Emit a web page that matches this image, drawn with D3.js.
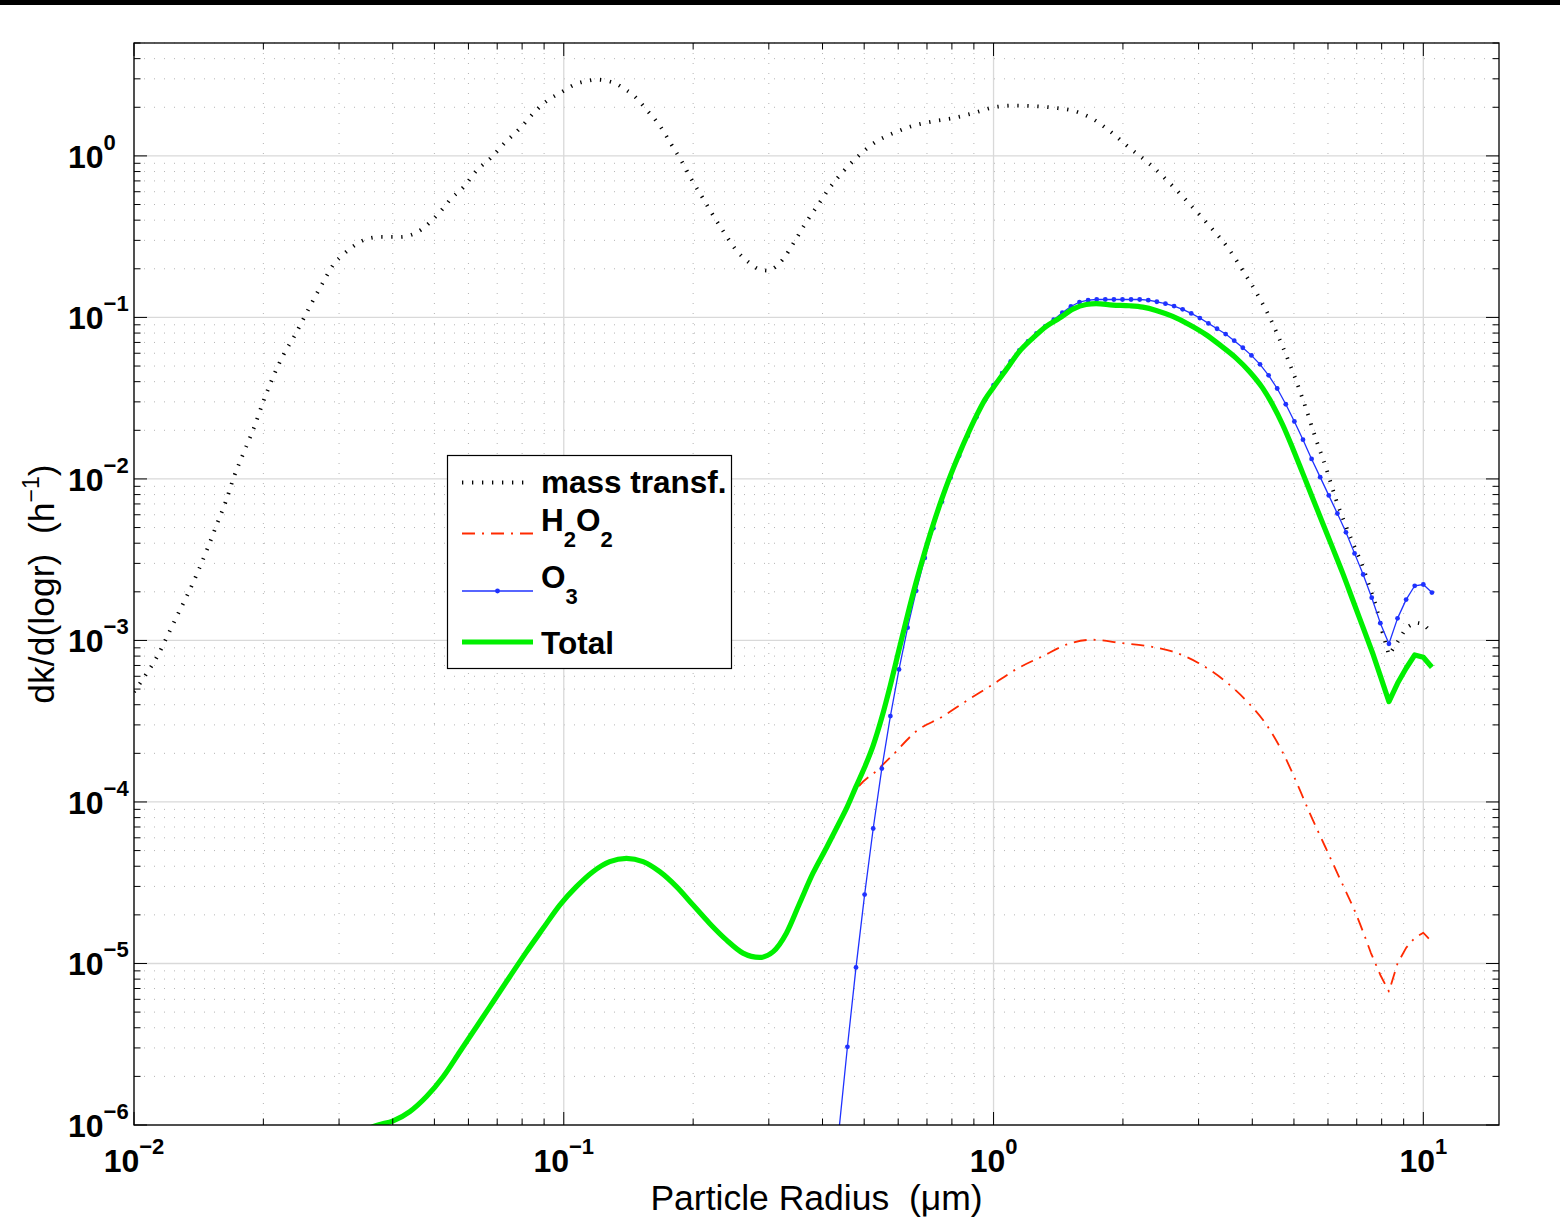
<!DOCTYPE html>
<html>
<head>
<meta charset="utf-8">
<script src="https://cdn.jsdelivr.net/npm/d3@7"></script>
<style>
  html, body { margin: 0; padding: 0; background: #fff; }
  svg { display: block; font-family: "Liberation Sans", Arial, Helvetica, sans-serif; }
</style>
</head>
<body>
<svg id="chart" width="1560" height="1231"></svg>
<script>
// ---- axis ranges ----
const xDomain = [0.01, 15];      // particle radius (µm)
const yDomain = [1e-6, 5];       // dk/d(log r) (1/h)
const xMajorExp = [-2, -1, 0, 1];
const yMajorExp = [0, -1, -2, -3, -4, -5, -6];

// ---- mass-transfer limit ----
const massR = [0.0100, 0.01072, 0.01131, 0.01193, 0.01259, 0.01328, 0.01401, 0.01478, 0.01560, 0.01637,
  0.01708, 0.01803, 0.01901, 0.02006, 0.02117, 0.02233, 0.02356, 0.02486, 0.02622, 0.02766,
  0.02919, 0.03079, 0.03248, 0.03483, 0.03753, 0.04178, 0.04408, 0.04650, 0.04906, 0.05176,
  0.05461, 0.05852, 0.06274, 0.06764, 0.07251, 0.07943, 0.08514, 0.09131, 0.09841, 0.1069,
  0.1126, 0.1187, 0.1253, 0.1320, 0.1384, 0.1452, 0.1561, 0.1676, 0.1774, 0.1880,
  0.1979, 0.2096, 0.2220, 0.2356, 0.2503, 0.2703, 0.2835, 0.2987, 0.3121, 0.3241,
  0.3445, 0.3656, 0.3909, 0.4173, 0.4487, 0.4843, 0.5277, 0.5864, 0.6513, 0.7264,
  0.8085, 0.9014, 1.0032, 1.1166, 1.2474, 1.3916, 1.5466, 1.7112, 1.8652, 2.0720,
  2.3063, 2.5670, 2.8573, 3.1793, 3.5387, 3.7939, 4.0680, 4.3848, 4.6991, 5.0119,
  5.3178, 5.6315, 5.9406, 6.2668, 6.6113, 6.9117, 7.2255, 7.4895, 7.7625, 8.0418,
  8.3176, 8.7096, 9.1201, 9.5499, 10.000, 10.471];
const massK = [4.80e-4, 6.29e-4, 7.90e-4, 1.051e-3, 1.418e-3, 1.886e-3, 2.581e-3, 3.635e-3, 5.265e-3, 7.307e-3,
  1.029e-2, 1.470e-2, 2.069e-2, 3.085e-2, 4.406e-2, 5.943e-2, 7.574e-2, 9.93e-2, 0.1302, 0.1683,
  0.2145, 0.2473, 0.2772, 0.3062, 0.3150, 0.3150, 0.3241, 0.3480, 0.3930, 0.4565,
  0.5418, 0.6428, 0.8145, 0.9719, 1.187, 1.501, 1.846, 2.191, 2.466, 2.792,
  2.901, 2.968, 2.926, 2.804, 2.599, 2.376, 1.919, 1.527, 1.192, 0.9273,
  0.7206, 0.5598, 0.4331, 0.3383, 0.2667, 0.2176, 0.1997, 0.1949, 0.2075, 0.2303,
  0.2963, 0.3847, 0.4994, 0.6428, 0.8111, 0.9957, 1.204, 1.388, 1.540, 1.640,
  1.719, 1.846, 2.002, 2.049, 2.031, 1.982, 1.891, 1.678, 1.422, 1.121,
  0.8923, 0.6806, 0.5045, 0.3686, 0.2618, 0.1968, 0.1459, 0.1007, 0.06662, 0.04343,
  0.02791, 0.01749, 0.01167, 0.007433, 0.005080, 0.003819, 0.002871, 0.002160, 0.001624, 0.001110,
  0.000813, 0.000979, 0.001195, 0.001293, 0.001265, 0.001113];

// ---- H2O2 pathway ----
const h2o2R = [0.4528, 0.4751, 0.5373, 0.5834, 0.6599, 0.7610, 0.8607, 0.9940, 1.124, 1.297,
  1.497, 1.693, 1.995, 2.256, 2.604, 3.004, 3.467, 3.922, 4.344, 4.715,
  5.118, 5.442, 5.908, 6.412, 6.960, 7.553, 7.943, 8.318, 8.710, 9.120,
  9.550, 10.00, 10.47];
const h2o2K = [8.67e-5, 1.14e-4, 1.58e-4, 1.96e-4, 2.73e-4, 3.38e-4, 4.19e-4, 5.32e-4, 6.59e-4, 7.96e-4,
  9.54e-4, 1.01e-3, 9.62e-4, 9.27e-4, 8.55e-4, 7.23e-4, 5.57e-4, 4.09e-4, 2.93e-4, 2.01e-4,
  1.25e-4, 8.52e-5, 5.30e-5, 3.30e-5, 2.05e-5, 1.16e-5, 8.49e-6, 6.71e-6, 1.00e-5, 1.25e-5,
  1.44e-5, 1.55e-5, 1.36e-5];

// ---- O3 pathway (one marker per size bin) ----
const o3R = [0.4365, 0.4571, 0.4786, 0.5012, 0.5248, 0.5495, 0.5754, 0.6026, 0.6310, 0.6607,
  0.6918, 0.7244, 0.7586, 0.7943, 0.8318, 0.8710, 0.9120, 0.9550, 1.0000, 1.0471,
  1.0965, 1.1482, 1.2023, 1.2589, 1.3183, 1.3804, 1.4454, 1.5136, 1.5849, 1.6596,
  1.7378, 1.8197, 1.9055, 1.9953, 2.0893, 2.1878, 2.2909, 2.3988, 2.5119, 2.6303,
  2.7542, 2.8840, 3.0200, 3.1623, 3.3113, 3.4674, 3.6308, 3.8019, 3.9811, 4.1687,
  4.3652, 4.5709, 4.7863, 5.0119, 5.2481, 5.4954, 5.7544, 6.0256, 6.3096, 6.6069,
  6.9183, 7.2444, 7.5858, 7.9433, 8.3176, 8.7096, 9.1201, 9.5499, 10.000, 10.471];
const o3K = [9.1e-7, 3.05e-6, 9.46e-6, 2.67e-5, 6.85e-5, 1.61e-4, 3.40e-4, 6.62e-4, 1.20e-3, 2.03e-3,
  3.24e-3, 4.95e-3, 7.23e-3, 1.02e-2, 1.39e-2, 1.85e-2, 2.41e-2, 3.07e-2, 3.81e-2, 4.52e-2,
  5.35e-2, 6.25e-2, 7.10e-2, 7.96e-2, 8.79e-2, 9.68e-2, 0.1069, 0.1169, 0.1245, 0.1279,
  0.1291, 0.1291, 0.1291, 0.1291, 0.1291, 0.1291, 0.1279, 0.1250, 0.1216, 0.1175,
  0.1122, 0.1059, 0.0991, 0.0918, 0.0851, 0.0789, 0.0718, 0.0649, 0.0582, 0.0512,
  0.0438, 0.0363, 0.0290, 0.0227, 0.0175, 0.0133, 0.01026, 0.00791, 0.00611, 0.00467,
  0.00346, 0.00256, 0.00184, 0.00128, 0.000953, 0.00137, 0.00179, 0.00218, 0.00222, 0.00198];

// ---- total rate ----
const totalR = [0.03390, 0.03699, 0.04009, 0.04383, 0.04793, 0.05240, 0.05730, 0.06266, 0.06850, 0.07487,
  0.08189, 0.08952, 0.09788, 0.1070, 0.1169, 0.1279, 0.1399, 0.1529, 0.1672, 0.1829,
  0.1999, 0.2185, 0.2389, 0.2612, 0.2856, 0.3067, 0.3296, 0.3538, 0.3800, 0.4083,
  0.4384, 0.4571, 0.4786, 0.5012, 0.5248, 0.5495, 0.5754, 0.6026, 0.6310, 0.6607,
  0.6918, 0.7244, 0.7586, 0.7943, 0.8318, 0.8710, 0.9120, 0.9550, 1.0000, 1.070,
  1.149, 1.234, 1.326, 1.424, 1.529, 1.643, 1.733, 1.894, 2.072, 2.225,
  2.390, 2.612, 2.856, 3.124, 3.355, 3.668, 3.938, 4.229, 4.461, 4.707,
  4.966, 5.240, 5.528, 5.833, 6.154, 6.492, 6.849, 7.225, 7.623, 7.943,
  8.318, 8.710, 9.120, 9.550, 10.00, 10.47];
const totalK = [9.18e-7, 1.00e-6, 1.06e-6, 1.21e-6, 1.50e-6, 1.99e-6, 2.84e-6, 4.06e-6, 5.80e-6, 8.28e-6,
  1.18e-5, 1.65e-5, 2.30e-5, 2.99e-5, 3.70e-5, 4.27e-5, 4.48e-5, 4.27e-5, 3.70e-5, 2.99e-5,
  2.30e-5, 1.77e-5, 1.40e-5, 1.16e-5, 1.09e-5, 1.18e-5, 1.54e-5, 2.36e-5, 3.62e-5, 5.19e-5,
  7.52e-5, 9.40e-5, 1.245e-4, 1.64e-4, 2.24e-4, 3.33e-4, 5.29e-4, 8.76e-4, 1.44e-3, 2.30e-3,
  3.53e-3, 5.26e-3, 7.57e-3, 1.055e-2, 1.428e-2, 1.89e-2, 2.456e-2, 3.10e-2, 3.70e-2, 4.75e-2,
  6.16e-2, 7.44e-2, 8.80e-2, 9.90e-2, 0.1125, 0.1203, 0.1216, 0.1192, 0.1181, 0.1158,
  0.1105, 0.1014, 0.0901, 0.0781, 0.0678, 0.0560, 0.0463, 0.0365, 0.0288, 0.02166,
  0.01551, 0.01086, 0.00760, 0.00532, 0.00373, 0.00261, 0.001786, 0.001221, 0.000834, 0.000603,
  0.000418, 0.000543, 0.000673, 0.000813, 0.000787, 0.000682];

// ---- layout ----
const W = 1560, H = 1231;
const plot = { left: 134, right: 1499, top: 43, bottom: 1125 };

const svg = d3.select("#chart");
svg.append("rect").attr("width", W).attr("height", H).attr("fill", "#fff");
svg.append("rect").attr("x", 0).attr("y", 0).attr("width", W).attr("height", 5).attr("fill", "#000");

const x = d3.scaleLog().domain(xDomain).range([plot.left, plot.right]);
const y = d3.scaleLog().domain(yDomain).range([plot.bottom, plot.top]);

const isMajor = v => Math.abs(Math.log10(v) - Math.round(Math.log10(v))) < 1e-9;
const xTicks = x.ticks();
const yTicks = y.ticks();

// ---- grid ----
const grid = svg.append("g");
xTicks.filter(v => !isMajor(v)).forEach(v => {
  grid.append("line").attr("x1", x(v)).attr("x2", x(v)).attr("y1", plot.top).attr("y2", plot.bottom)
    .attr("stroke", "#b4b4b4").attr("stroke-width", 1).attr("stroke-dasharray", "1,9");
});
yTicks.filter(v => !isMajor(v)).forEach(v => {
  grid.append("line").attr("y1", y(v)).attr("y2", y(v)).attr("x1", plot.left).attr("x2", plot.right)
    .attr("stroke", "#b4b4b4").attr("stroke-width", 1).attr("stroke-dasharray", "1,9");
});
xTicks.filter(isMajor).forEach(v => {
  grid.append("line").attr("x1", x(v)).attr("x2", x(v)).attr("y1", plot.top).attr("y2", plot.bottom)
    .attr("stroke", "#d9d9d9").attr("stroke-width", 1.3);
});
yTicks.filter(isMajor).forEach(v => {
  grid.append("line").attr("y1", y(v)).attr("y2", y(v)).attr("x1", plot.left).attr("x2", plot.right)
    .attr("stroke", "#d9d9d9").attr("stroke-width", 1.3);
});

// ---- curves ----
svg.append("clipPath").attr("id", "plotClip").append("rect")
  .attr("x", plot.left).attr("y", plot.top)
  .attr("width", plot.right - plot.left).attr("height", plot.bottom - plot.top);

const curves = svg.append("g").attr("clip-path", "url(#plotClip)");
const smoothLine = d3.line().x(d => x(d[0])).y(d => y(d[1])).curve(d3.curveMonotoneX);
const straightLine = d3.line().x(d => x(d[0])).y(d => y(d[1]));

const massData = d3.zip(massR, massK);
const h2o2Data = d3.zip(h2o2R, h2o2K);
const o3Data = d3.zip(o3R, o3K);
const totalData = d3.zip(totalR, totalK);

const styles = {
  mass:  { stroke: "#000000", width: 3.8, dash: "1.3,8.7" },
  h2o2:  { stroke: "#ff2a00", width: 1.8, dash: "13,7,2,7" },
  o3:    { stroke: "#1f32ff", width: 1.3, dash: null },
  total: { stroke: "#00f000", width: 5.2, dash: null }
};

// smooth body, straight segments through the sharp dip near 8 µm
function seriesPath(data, splitR) {
  if (splitR == null) return straightLine(data);
  const head = data.filter(d => d[0] <= splitR);
  const tail = data.filter(d => d[0] >= splitR);
  return smoothLine(head) + straightLine(tail).replace(/^M/, "L");
}

function drawSeries(g, data, s, splitR) {
  const p = g.append("path").attr("d", seriesPath(data, splitR))
    .attr("fill", "none").attr("stroke", s.stroke).attr("stroke-width", s.width)
    .attr("stroke-linejoin", "round");
  if (s.dash) p.attr("stroke-dasharray", s.dash).attr("stroke-linecap", "butt");
  return p;
}

drawSeries(curves, massData, styles.mass, 8.0418);
drawSeries(curves, h2o2Data, styles.h2o2, 7.553);
drawSeries(curves, o3Data, styles.o3, null);
curves.append("g").selectAll("circle").data(o3Data).join("circle")
  .attr("cx", d => x(d[0])).attr("cy", d => y(d[1])).attr("r", 2.4).attr("fill", styles.o3.stroke);
drawSeries(curves, totalData, styles.total, 7.623);

// ---- axes box and ticks ----
const axes = svg.append("g").attr("stroke", "#000");
axes.append("rect").attr("x", plot.left).attr("y", plot.top)
  .attr("width", plot.right - plot.left).attr("height", plot.bottom - plot.top)
  .attr("fill", "none").attr("stroke-width", 1.3);
xTicks.forEach(v => {
  const len = isMajor(v) ? 13 : 6.5;
  const px = x(v);
  axes.append("line").attr("x1", px).attr("x2", px).attr("y1", plot.bottom).attr("y2", plot.bottom - len).attr("stroke-width", 1);
  axes.append("line").attr("x1", px).attr("x2", px).attr("y1", plot.top).attr("y2", plot.top + len).attr("stroke-width", 1);
});
yTicks.forEach(v => {
  const len = isMajor(v) ? 13 : 6.5;
  const py = y(v);
  axes.append("line").attr("y1", py).attr("y2", py).attr("x1", plot.left).attr("x2", plot.left + len).attr("stroke-width", 1);
  axes.append("line").attr("y1", py).attr("y2", py).attr("x1", plot.right).attr("x2", plot.right - len).attr("stroke-width", 1);
});

// ---- tick labels (10^n) ----
const expText = e => (e < 0 ? "\u2212" + (-e) : String(e));
function powerLabel(g, px, py, e, anchor) {
  const t = g.append("text").attr("x", px).attr("y", py).attr("text-anchor", anchor)
    .attr("font-weight", "bold").attr("font-size", 32).attr("fill", "#000");
  t.append("tspan").text("10");
  t.append("tspan").attr("dy", -18).attr("font-size", 22).text(expText(e));
}
const labels = svg.append("g");
xMajorExp.forEach(e => powerLabel(labels, x(Math.pow(10, e)), 1172, e, "middle"));
yMajorExp.forEach(e => powerLabel(labels, 68, y(Math.pow(10, e)) + 12, e, "start"));

// ---- axis titles ----
svg.append("text").attr("x", (plot.left + plot.right) / 2).attr("y", 1210)
  .attr("text-anchor", "middle").attr("font-size", 35.5).attr("fill", "#000")
  .style("white-space", "pre").text("Particle Radius  (\u03bcm)");

const yl = svg.append("text")
  .attr("transform", `translate(54,${(plot.top + plot.bottom) / 2}) rotate(-90)`)
  .attr("text-anchor", "middle").attr("font-size", 35.5).attr("fill", "#000")
  .style("white-space", "pre");
yl.append("tspan").text("dk/d(logr)  (h");
yl.append("tspan").attr("dy", -15).attr("font-size", 23).text("\u22121");
yl.append("tspan").attr("dy", 15).text(")");

// ---- legend ----
const lg = svg.append("g");
lg.append("rect").attr("x", 447.5).attr("y", 455.5).attr("width", 284).attr("height", 213)
  .attr("fill", "#fff").attr("stroke", "#000").attr("stroke-width", 1.2);

const legendRows = [
  { key: "mass", y: 482.5, base: 493, parts: [["mass transf.", 0]] },
  { key: "h2o2", y: 533.5, base: 531, parts: [["H", 0], ["2", 1], ["O", 0], ["2", 1]] },
  { key: "o3", y: 591, base: 588, parts: [["O", 0], ["3", 1]] },
  { key: "total", y: 642, base: 654, parts: [["Total", 0]] }
];
legendRows.forEach(row => {
  const s = styles[row.key];
  const sample = lg.append("line").attr("x1", 462).attr("x2", row.key === "mass" ? 528 : 533)
    .attr("y1", row.y).attr("y2", row.y)
    .attr("stroke", s.stroke).attr("stroke-width", s.width);
  if (s.dash) sample.attr("stroke-dasharray", s.dash);
  if (row.key === "o3") {
    lg.append("circle").attr("cx", 497.5).attr("cy", row.y).attr("r", 2.4).attr("fill", s.stroke);
  }
  const t = lg.append("text").attr("x", 541).attr("y", row.base)
    .attr("font-weight", "bold").attr("font-size", 31.5).attr("fill", "#000");
  let shifted = false;
  row.parts.forEach(([str, sub]) => {
    const ts = t.append("tspan").text(str);
    if (sub && !shifted) { ts.attr("dy", 16).attr("font-size", 22); shifted = true; }
    else if (!sub && shifted) { ts.attr("dy", -16); shifted = false; }
    else if (sub) ts.attr("font-size", 22);
  });
});
</script>
</body>
</html>
